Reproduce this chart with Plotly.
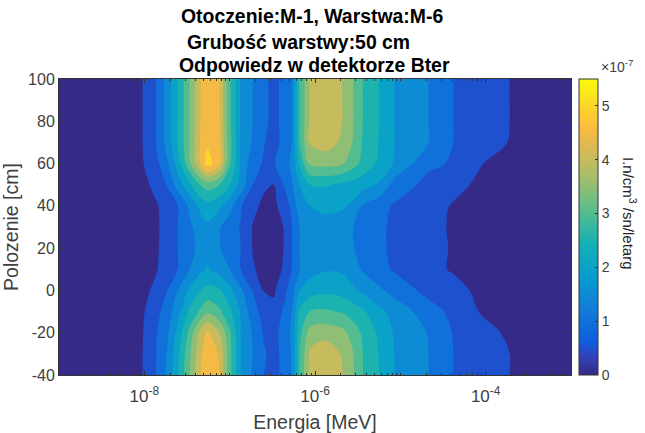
import plotly.graph_objects as go

# log10 of energy [MeV]
log_energy = [-9.0, -8.29, -8.02, -7.86, -7.73, -7.61, -7.47, -7.34, -7.26, -7.12,
              -7.0, -6.87, -6.73, -6.6, -6.48, -6.36, -6.27, -6.18, -6.06, -5.88,
              -5.68, -5.55, -5.44, -5.25, -5.07, -4.67, -4.38, -4.06, -3.72, -3.0]
polozenie = [-40, -30, -20, -10, 0, 10, 20, 30, 40, 50, 60, 70, 80, 90, 100]

# detector response, units of 1e-7
z_m40 = [.02, .2, .5, 1.0, 1.6, 2.45, 3.5, 4.5, 4.75, 4.5, 3.15, 2.0, 1.45, 1.0, .85, 1.15, 1.55, 3.05, 4.1, 4.35, 4.03, 3.5, 3.0, 2.5, 2.0, 1.5, 1.0, .75, .5, .1]
z_m30 = [.02, .2, .5, 1.0, 1.55, 2.35, 3.4, 4.4, 4.85, 4.45, 3.2, 2.0, 1.5, 1.05, .85, 1.15, 1.55, 3.0, 4.1, 4.35, 3.95, 3.5, 3.0, 2.48, 2.0, 1.5, 1.0, .75, .5, .1]
z_m20 = [.01, .18, .48, .97, 1.42, 2.15, 3.15, 4.2, 4.6, 4.0, 3.1, 2.0, 1.45, .95, .85, 1.2, 1.6, 2.85, 3.7, 3.8, 3.65, 3.28, 2.9, 2.4, 1.95, 1.47, .97, .68, .42, .07]
z_m10 = [.01, .14, .44, .82, 1.25, 1.8, 2.6, 3.1, 3.4, 3.1, 2.6, 1.95, 1.2, .8, .6, 1.1, 1.5, 2.6, 3.02, 3.08, 2.95, 2.75, 2.58, 2.12, 1.85, 1.2, .88, .47, .28, .04]
z_0 = [0, .08, .38, .6, 1.0, 1.5, 2.1, 2.5, 2.65, 2.55, 2.15, 1.6, .97, .48, .45, .85, 1.3, 2.0, 2.25, 2.38, 2.3, 2.1, 1.9, 1.6, 1.3, .85, .65, .4, .22, .03]
z_10 = [0, .03, .25, .47, .72, 1.0, 1.5, 1.9, 2.05, 1.8, 1.5, 1.0, .55, .35, .36, .55, 1.02, 1.5, 1.8, 1.95, 1.92, 1.68, 1.45, 1.15, .95, .62, .46, .32, .18, .02]
z_20 = [0, .02, .23, .44, .7, 1.0, 1.35, 1.65, 1.85, 1.55, 1.22, 1.0, .48, .3, .31, .52, 1.02, 1.52, 1.8, 1.9, 1.78, 1.52, 1.33, 1.08, .92, .62, .47, .3, .17, .02]
z_30 = [0, .02, .22, .42, .7, 1.0, 1.4, 1.75, 1.9, 1.55, 1.22, .97, .48, .32, .33, .52, 1.0, 1.5, 1.78, 1.88, 1.75, 1.5, 1.32, 1.08, .92, .63, .45, .3, .17, .02]
z_40 = [0, .03, .28, .45, .72, 1.0, 1.6, 2.15, 2.3, 2.1, 1.7, 1.05, .6, .42, .4, .72, 1.15, 1.75, 2.0, 2.08, 2.06, 1.9, 1.45, 1.17, .95, .65, .47, .32, .18, .02]
z_50 = [0, .05, .35, .65, 1.03, 1.7, 2.4, 3.05, 3.25, 3.0, 2.5, 1.8, 1.0, .56, .49, 1.03, 1.45, 2.0, 2.5, 2.55, 2.4, 2.3, 2.2, 1.95, 1.3, .85, .62, .42, .25, .03]
z_60 = [.01, .15, .47, .85, 1.45, 2.2, 3.4, 4.5, 5.25, 4.6, 3.1, 1.9, 1.2, .95, .97, 1.3, 1.6, 2.6, 3.6, 3.65, 3.55, 3.2, 2.85, 2.4, 1.95, 1.1, .95, .52, .3, .05]
z_70 = [.02, .2, .5, 1.0, 1.7, 2.5, 3.5, 4.55, 4.9, 4.6, 3.2, 1.95, 1.45, 1.03, .8, 1.2, 1.5, 3.0, 4.05, 4.25, 3.9, 3.45, 2.95, 2.48, 2.0, 1.5, 1.0, .73, .48, .09]
z_80 = [.02, .2, .5, 1.0, 1.7, 2.5, 3.5, 4.52, 4.78, 4.55, 3.1, 1.95, 1.5, 1.13, .85, 1.17, 1.5, 3.0, 4.05, 4.3, 4.0, 3.5, 3.0, 2.5, 2.0, 1.5, 1.0, .75, .5, .1]
z_90 = [.02, .2, .5, 1.0, 1.7, 2.5, 3.5, 4.5, 4.72, 4.5, 3.1, 1.95, 1.5, 1.13, .85, 1.17, 1.5, 3.0, 4.05, 4.3, 4.0, 3.5, 3.0, 2.5, 2.0, 1.5, 1.0, .75, .5, .1]
z_100 = [.02, .2, .5, 1.0, 1.7, 2.5, 3.5, 4.5, 4.7, 4.5, 3.1, 1.95, 1.5, 1.13, .85, 1.17, 1.5, 3.0, 4.05, 4.3, 4.0, 3.5, 3.0, 2.5, 2.0, 1.5, 1.0, .75, .5, .1]

x_ticks = [1e-8, 1e-6, 1e-4]
x_labels = ['10<sup>-8</sup>', '10<sup>-6</sup>', '10<sup>-4</sup>']
y_ticks = [-40, -20, 0, 20, 40, 60, 80, 100]
y_labels = ['-40', '-20', '0', '20', '40', '60', '80', '100']
cb_ticks = [0, 1, 2, 3, 4, 5]

parula = [[0.0, '#352a87'], [0.0635, '#3243ba'], [0.111, '#0f5cdd'], [0.222, '#127dd8'],
          [0.333, '#079ccf'], [0.444, '#15b1b4'], [0.556, '#59bd8c'], [0.667, '#a5be6b'],
          [0.778, '#e1b952'], [0.825, '#f8ba44'], [0.857, '#ffc337'], [0.889, '#fcce2e'],
          [1.0, '#f9fb0e']]

energia = [10 ** e for e in log_energy]
z = [z_m40, z_m30, z_m20, z_m10, z_0, z_10, z_20, z_30, z_40, z_50, z_60, z_70, z_80, z_90, z_100]

FONT = 'Liberation Sans'
GRAY = '#404040'

fig = go.Figure()

# heatmap sits under the contours, it only gives the smooth colorbar
fig.add_trace(go.Heatmap(x=energia, y=polozenie, z=z, zmin=0, zmax=5.5, colorscale=parula,
                         colorbar=dict(x=1 + 8 / 512, xanchor='left', xpad=0, thickness=19, len=1, y=0.5,
                                       ypad=0, tickvals=cb_ticks, ticks='inside', ticklen=3,
                                       tickcolor='#333333', outlinecolor='#333333', outlinewidth=1,
                                       tickfont=dict(family=FONT, size=14, color=GRAY))))

fig.add_trace(go.Contour(x=energia, y=polozenie, z=z, colorscale=parula, showscale=False,
                         autocontour=False, line=dict(width=0),
                         contours=dict(start=0.5, end=5.5, size=0.5, coloring='fill')))

fig.update_xaxes(type='log', range=[-9, -3], tickvals=x_ticks, ticktext=x_labels, ticks='inside',
                 ticklen=4, tickcolor='#333333', showline=True, linecolor='#333333', mirror='ticks',
                 showgrid=False, zeroline=False, automargin=False, ticklabelstandoff=6,
                 minor=dict(ticks='inside', ticklen=2, dtick='D1', tickcolor='#333333', showgrid=False),
                 tickfont=dict(family=FONT, size=17, color=GRAY),
                 title=dict(text='Energia [MeV]', standoff=10, font=dict(family=FONT, size=19.5, color=GRAY)))
fig.update_yaxes(range=[-40, 100], tickvals=y_ticks, ticktext=y_labels, ticks='inside', ticklen=4,
                 tickcolor='#333333', showline=True, linecolor='#333333', mirror='ticks', showgrid=False,
                 zeroline=False, automargin=False, tickfont=dict(family=FONT, size=16, color=GRAY),
                 title=dict(text='Polozenie [cm]', standoff=6, font=dict(family=FONT, size=19.5, color=GRAY)))


def px_x(px):
    return (px - 59) / 512


def px_y(py):
    return (375 - py) / 296


titles = [('Otoczenie:M-1, Warstwa:M-6', 179, 16),
          ('Grubość warstwy:50 cm', 185, 42),
          ('Odpowiedz w detektorze Bter', 177, 65)]
for text, left, mid in titles:
    fig.add_annotation(text='<b>' + text + '</b>', x=px_x(left), y=px_y(mid), xref='paper', yref='paper',
                       xanchor='left', yanchor='middle', showarrow=False,
                       font=dict(family=FONT, size=19.4, color='black'))

fig.add_annotation(text='×10<sup>-7</sup>', x=px_x(599), y=px_y(66), xref='paper', yref='paper',
                   xanchor='left', yanchor='middle', showarrow=False,
                   font=dict(family=FONT, size=14, color=GRAY))
fig.add_annotation(text='I.n/cm<sup>3</sup> /sn/letarg', x=px_x(630), y=px_y(213), xref='paper', yref='paper',
                   xanchor='center', yanchor='middle', textangle=90, showarrow=False,
                   font=dict(family=FONT, size=15, color='#222222'))

fig.update_layout(width=645, height=433, margin=dict(l=59, r=74, t=79, b=58),
                  paper_bgcolor='white', plot_bgcolor='white', showlegend=False)

# page body has a default 8 px margin
fig.write_html("out.html", config={'displayModeBar': False},
               post_script="document.body.style.margin = '0';")
